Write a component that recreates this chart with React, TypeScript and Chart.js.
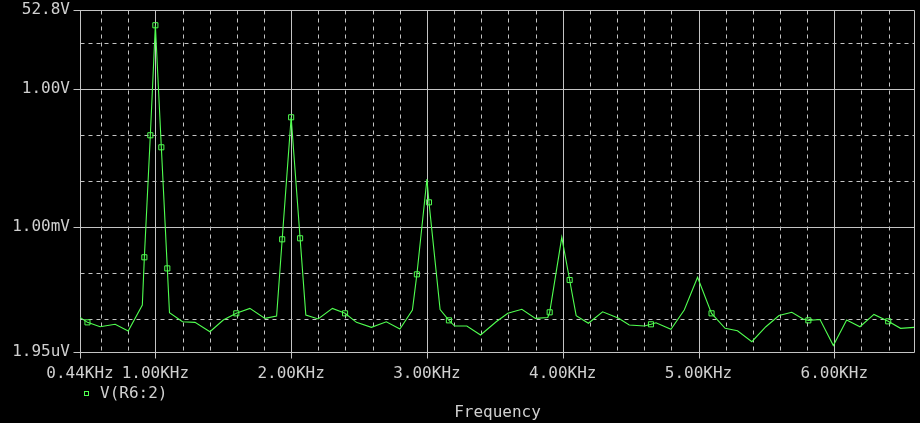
import { useEffect, useRef } from 'react';
import { Chart, registerables } from 'chart.js';

Chart.register(...registerables);

// ---- data (frequency in KHz, magnitude in V) ----
const freqKHz = [
  0.445, 0.5, 0.593, 0.704, 0.8, 0.904, 0.919, 0.963, 1.0, 1.044, 1.088, 1.104,
  1.2, 1.292, 1.402, 1.5, 1.596, 1.696, 1.807, 1.893, 1.934, 2.0, 2.066, 2.108,
  2.199, 2.304, 2.397, 2.481, 2.591, 2.701, 2.801, 2.893, 2.926, 3.0, 3.015, 3.097,
  3.162, 3.204, 3.294, 3.395, 3.51, 3.596, 3.699, 3.799, 3.89, 3.904, 3.993, 4.051,
  4.099, 4.189, 4.294, 4.412, 4.49, 4.601, 4.65, 4.687, 4.797, 4.895, 4.993, 5.096,
  5.196, 5.287, 5.393, 5.496, 5.593, 5.687, 5.77, 5.809, 5.895, 5.993, 6.091, 6.189,
  6.292, 6.397, 6.488, 6.587,
];
const volts = [
  1.1e-5, 8.6e-6, 6.9e-6, 7.8e-6, 5.57e-6, 2.05e-5, 2.23e-4, 0.1, 24.6, 0.0548, 1.28e-4, 1.39e-5,
  8.87e-6, 8.6e-6, 5.37e-6, 9.66e-6, 1.35e-5, 1.73e-5, 1.05e-5, 1.18e-5, 5.48e-4, 0.246, 5.77e-4, 1.24e-5,
  1.02e-5, 1.73e-5, 1.35e-5, 8.6e-6, 6.7e-6, 8.87e-6, 6.15e-6, 1.59e-5, 9.5e-5, 0.0112, 3.49e-3, 1.63e-5,
  9.5e-6, 7.15e-6, 7.15e-6, 4.56e-6, 8.87e-6, 1.35e-5, 1.65e-5, 1.05e-5, 1.1e-5, 1.42e-5, 6.06e-4, 7.15e-5,
  1.2e-5, 8.2e-6, 1.46e-5, 1.05e-5, 7.5e-6, 7.15e-6, 7.8e-6, 8.4e-6, 6.06e-6, 1.59e-5, 8.2e-5, 1.35e-5,
  6.37e-6, 5.65e-6, 3.26e-6, 6.9e-6, 1.21e-5, 1.42e-5, 1.02e-5, 9.5e-6, 9.9e-6, 2.7e-6, 9.66e-6, 6.9e-6,
  1.28e-5, 9.05e-6, 6.37e-6, 6.7e-6,
];
// data points that carry a trace marker
const markerIdx = [1, 6, 7, 8, 9, 10, 16, 20, 21, 22, 26, 32, 34, 36, 45, 47, 54, 59, 67, 73];

const seriesName = 'V(R6:2)';
const xTitle = 'Frequency';

const xMin = 0.445;
const xMax = 6.587;
const xLabelValues = [xMin, 1, 2, 3, 4, 5, 6];
const xLabelTexts = ['0.44KHz', '1.00KHz', '2.00KHz', '3.00KHz', '4.00KHz', '5.00KHz', '6.00KHz'];
const xMinorGrid = [0.6, 0.8, 1.2, 1.4, 1.6, 1.8, 2.2, 2.4, 2.6, 2.8, 3.2, 3.4, 3.6, 3.8, 4.2, 4.4, 4.6, 4.8, 5.2, 5.4, 5.6, 5.8, 6.2, 6.4];
const xMajorGrid = [1, 2, 3, 4, 5, 6];

const yMin = 1.95e-6;
const yMax = 52.8;
const yLabelValues = [yMin, 1e-3, 1, yMax];
const yLabelTexts = ['1.95uV', '1.00mV', '1.00V', '52.8V'];
const yMinorGrid = [1e-5, 1e-4, 1e-2, 1e-1, 10];
const yMajorGrid = [1e-3, 1];

// ---- styles ----
const GREEN = '#50ff50';
const GRID = '#c4c4c4';
const TEXT = '#d0d0d0';
const FONT_FAMILY = '"DejaVu Sans Mono", "Liberation Mono", monospace';

const psPlugin = {
  id: 'psStyle',
  beforeDraw(chart: any) {
    const { ctx, width, height } = chart;
    ctx.save();
    ctx.fillStyle = '#000';
    ctx.fillRect(0, 0, width, height);
    ctx.restore();
  },
  beforeDatasetsDraw(chart: any) {
    const { ctx, chartArea: a, scales } = chart;
    const x = scales.x;
    const y = scales.y;
    const px = (v: number) => Math.round(x.getPixelForValue(v)) + 0.5;
    const py = (v: number) => Math.round(y.getPixelForValue(v)) + 0.5;
    const L = Math.round(a.left) + 0.5;
    const R = Math.round(a.right) + 0.5;
    const T = Math.round(a.top) + 0.5;
    const B = Math.round(a.bottom) + 0.5;
    const line = (x1: number, y1: number, x2: number, y2: number) => {
      ctx.beginPath();
      ctx.moveTo(x1, y1);
      ctx.lineTo(x2, y2);
      ctx.stroke();
    };
    ctx.save();
    ctx.strokeStyle = GRID;
    ctx.lineWidth = 1;
    ctx.setLineDash([4, 4]);
    xMinorGrid.forEach((v) => { const p = px(v); line(p, T, p, B); });
    yMinorGrid.forEach((v) => { const p = py(v); line(L, p, R, p); });
    ctx.setLineDash([]);
    xMajorGrid.forEach((v) => { const p = px(v); line(p, T, p, B + 6); });
    yMajorGrid.forEach((v) => { const p = py(v); line(L - 7, p, R, p); });
    // frame
    line(L - 7, T, R, T);
    line(L - 7, B, R, B);
    line(L, T, L, B + 6);
    line(R, T, R, B);
    ctx.restore();
  },
  afterDraw(chart: any) {
    const { ctx } = chart;
    const x = chart.scales.x;
    ctx.save();
    ctx.font = `16px ${FONT_FAMILY}`;
    ctx.fillStyle = TEXT;
    ctx.textBaseline = 'middle';
    ctx.textAlign = 'left';
    // legend
    ctx.strokeStyle = GREEN;
    ctx.lineWidth = 1;
    ctx.strokeRect(84.5, 391.5, 4, 4);
    ctx.fillText(seriesName, 100, 394);
    // axis title
    ctx.textAlign = 'center';
    ctx.fillText(xTitle, (x.left + x.right) / 2 + 0.5, 413);
    ctx.restore();
  },
};

export default function App() {
  const ref = useRef<HTMLCanvasElement | null>(null);

  useEffect(() => {
    document.body.style.margin = '0';
    document.body.style.background = '#000';
    const canvas = ref.current;
    if (!canvas) return;

    const linePts = freqKHz.map((f, i) => ({ x: f, y: volts[i] }));
    const markPts = markerIdx.map((i) => ({ x: freqKHz[i], y: volts[i] }));
    const font = { family: FONT_FAMILY, size: 16 };

    const chart = new Chart(canvas, {
      type: 'line',
      data: {
        datasets: [
          {
            label: seriesName,
            data: linePts,
            borderColor: GREEN,
            borderWidth: 1.1,
            pointRadius: 0,
            tension: 0,
            fill: false,
          },
          {
            label: seriesName + ' markers',
            data: markPts,
            showLine: false,
            pointStyle: 'rect',
            pointRadius: 3.6,
            pointBorderWidth: 1,
            pointBorderColor: GREEN,
            pointBackgroundColor: 'rgba(0,0,0,0)',
            borderColor: GREEN,
            backgroundColor: 'rgba(0,0,0,0)',
          },
        ],
      },
      options: {
        responsive: false,
        animation: false,
        devicePixelRatio: 1,
        layout: { padding: { left: 0, right: 6, top: 10, bottom: 0 } },
        plugins: {
          legend: { display: false },
          tooltip: { enabled: false },
          title: { display: false },
        },
        scales: {
          x: {
            type: 'linear',
            min: xMin,
            max: xMax,
            afterBuildTicks: (s: any) => {
              s.ticks = xLabelValues.map((v) => ({ value: v }));
            },
            afterFit: (s: any) => {
              s.height = 71;
              s.paddingLeft = 0;
              s.paddingRight = 0;
            },
            grid: { display: false, drawTicks: false },
            border: { display: false },
            ticks: {
              autoSkip: false,
              maxRotation: 0,
              minRotation: 0,
              padding: 12,
              color: TEXT,
              font,
              callback: (_v: any, i: number) => xLabelTexts[i],
            },
          },
          y: {
            type: 'logarithmic',
            min: yMin,
            max: yMax,
            afterBuildTicks: (s: any) => {
              s.ticks = yLabelValues.map((v) => ({ value: v }));
            },
            afterFit: (s: any) => {
              s.width = 80;
              s.paddingTop = 0;
              s.paddingBottom = 0;
            },
            grid: { display: false, drawTicks: false },
            border: { display: false },
            ticks: {
              autoSkip: false,
              padding: 10,
              color: TEXT,
              font,
              callback: (_v: any, i: number) => yLabelTexts[i],
            },
          },
        },
      },
      plugins: [psPlugin],
    } as any);

    return () => chart.destroy();
  }, []);

  return (
    <div style={{ width: 920, height: 423, background: '#000' }}>
      <canvas ref={ref} width={920} height={423} style={{ display: 'block' }} />
    </div>
  );
}
